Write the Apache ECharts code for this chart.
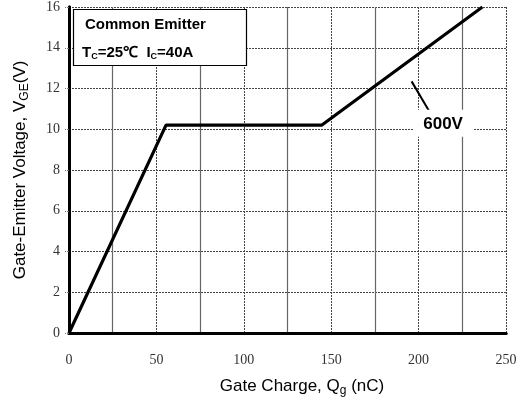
<!DOCTYPE html>
<html><head><meta charset="utf-8">
<script src="https://cdn.jsdelivr.net/npm/echarts@6/dist/echarts.min.js"></script>
<style>html,body{margin:0;padding:0;background:#fff}#c{width:529px;height:402px}</style>
</head><body><div id="c"></div>
<script>
// Gate charge curve (Qg nC, VGE V)
var qg = [0, 55.5, 144.5, 236.5];
var vge = [0, 10.2, 10.2, 16];
// Annotation leader line
var leadX = [196, 206];
var leadY = [12.35, 10.9];
var labelPoint = [214, 10.2];
var labelText = '600V';
var xTicks = [0, 50, 100, 150, 200, 250];
var yTicks = [0, 2, 4, 6, 8, 10, 12, 14, 16];

var chart = echarts.init(document.getElementById('c'));
var tickFont = {fontFamily: 'Liberation Serif', fontSize: 14, color: '#333'};
chart.setOption({
  animation: false,
  grid: {left: 69, right: 23, top: 7, bottom: 69},
  xAxis: [{
    type: 'value', min: 0, max: 250, interval: 50,
    axisLine: {show: true, onZero: false, lineStyle: {color: '#000', width: 3}},
    axisTick: {show: false},
    axisLabel: Object.assign({margin: 20}, tickFont),
    splitLine: {show: true, lineStyle: {color: '#444', type: [2, 1], width: 1}},
    minorTick: {show: false, splitNumber: 2},
    minorSplitLine: {show: true, lineStyle: {color: '#666', width: 1.2}}
  }, {
    type: 'value', position: 'top', min: 0, max: 250,
    axisLine: {show: true, lineStyle: {color: '#000', width: 3}},
    axisTick: {show: false}, axisLabel: {show: false}, splitLine: {show: false}
  }],
  yAxis: [{
    type: 'value', min: 0, max: 16, interval: 2,
    axisLine: {show: true, onZero: false, lineStyle: {color: '#000', width: 3}},
    axisTick: {show: true, length: 4, inside: false, lineStyle: {color: '#777', type: [2, 1]}},
    axisLabel: Object.assign({margin: 9}, tickFont),
    splitLine: {show: true, lineStyle: {color: '#444', type: [2, 1], width: 1}}
  }, {
    type: 'value', position: 'right', min: 0, max: 16,
    axisLine: {show: true, lineStyle: {color: '#000', width: 3}},
    axisTick: {show: false}, axisLabel: {show: false}, splitLine: {show: false}
  }],
  series: [{
    type: 'line', data: qg.map(function (x, i) { return [x, vge[i]]; }),
    symbol: 'none', lineStyle: {color: '#000', width: 3.2}, z: 5
  }, {
    type: 'line', data: leadX.map(function (x, i) { return [x, leadY[i]]; }),
    symbol: 'none', lineStyle: {color: '#000', width: 2}, z: 5
  }, {
    type: 'scatter', data: [labelPoint], symbolSize: 1, z: 6,
    itemStyle: {color: 'rgba(255,255,255,0)', opacity: 1},
    label: {show: true, position: 'top', distance: -12, formatter: labelText,
      fontFamily: 'Liberation Sans', fontWeight: 'bold', fontSize: 17, color: '#000',
      textBorderWidth: 0, backgroundColor: '#fff', padding: [6, 10, 4, 10]}
  }],
  graphic: [
    {type: 'rect', shape: {x: 73.5, y: 9.5, width: 173, height: 56}, z: 10,
      style: {fill: '#fff', stroke: '#000', lineWidth: 1.2}},
    {type: 'text', x: 85, y: 25, z: 11, style: {text: 'Common Emitter', fontFamily: 'Liberation Sans', fontWeight: 'bold', fontSize: 15, fill: '#000', verticalAlign: 'middle'}},
    {type: 'text', x: 82, y: 53, z: 11, style: {
      text: '{b|T}{s|C}{b|=25℃  I}{s|C}{b|=40A}',
      verticalAlign: 'middle',
      rich: {
        b: {fontFamily: 'Liberation Sans', fontWeight: 'bold', fontSize: 15, color: '#000'},
        s: {fontFamily: 'Liberation Sans', fontWeight: 'bold', fontSize: 9, color: '#000', padding: [8, 0, 0, 0]}
      }}},
    {type: 'text', x: 302, y: 386, z: 11, style: {
      text: '{t|Gate Charge, Q}{s|g}{t| (nC)}', align: 'center', verticalAlign: 'middle',
      rich: {
        t: {fontFamily: 'Liberation Sans', fontSize: 17, color: '#000'},
        s: {fontFamily: 'Liberation Sans', fontSize: 12, color: '#000', padding: [10, 0, 0, 0]}
      }}},
    {type: 'text', x: 20, y: 170, rotation: Math.PI / 2, z: 11, style: {
      text: '{t|Gate-Emitter Voltage, V}{s|GE}{t|(V)}', align: 'center', verticalAlign: 'middle',
      rich: {
        t: {fontFamily: 'Liberation Sans', fontSize: 17, color: '#000'},
        s: {fontFamily: 'Liberation Sans', fontSize: 12, color: '#000', padding: [10, 0, 0, 0]}
      }}}
  ]
});
</script></body></html>
